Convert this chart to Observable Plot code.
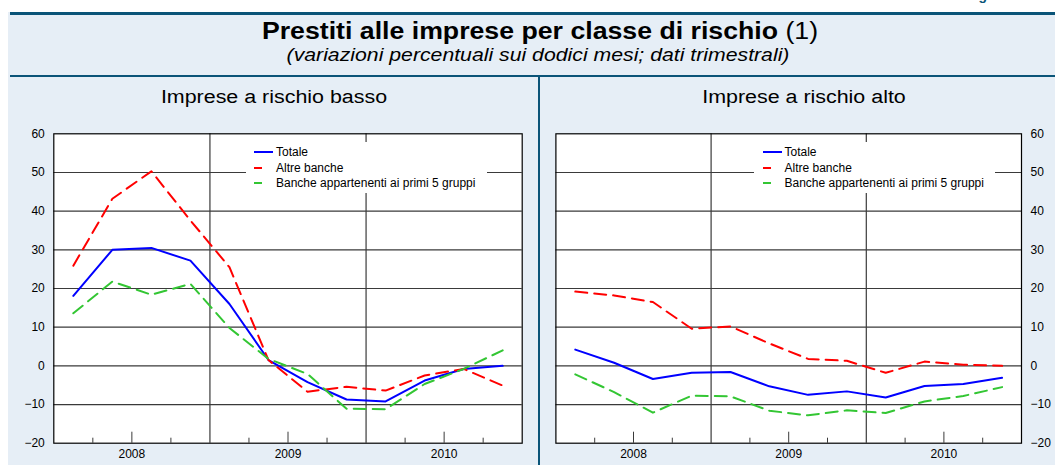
<!DOCTYPE html>
<html><head><meta charset="utf-8">
<script src="https://cdn.jsdelivr.net/npm/d3@7"></script>
<script src="https://cdn.jsdelivr.net/npm/@observablehq/plot@0.6"></script>
<style>
body{margin:0;background:#fff;font-family:"Liberation Sans",Arial,sans-serif;}
#wrap{position:relative;width:1055px;height:465px;overflow:hidden;}
.abs{position:absolute;}
.hdr{position:absolute;text-align:center;white-space:nowrap;color:#000;transform-origin:center;}
.leg{position:absolute;background:#fff;}
.row{position:absolute;height:16px;line-height:16px;font-size:12px;white-space:nowrap;color:#000;}
.row svg{position:absolute;left:0;top:0;}
</style></head><body>
<div id="wrap">
  <div class="abs" style="left:8px;top:12px;width:1047px;height:453px;background:#e6eef6"></div>
  <div class="abs" style="left:966px;top:-12px;font:bold 14px/14px 'Liberation Sans',Arial,sans-serif;color:#0a5478">Figura</div>
  <div class="abs" style="left:10px;top:12px;width:1045px;height:3px;background:#0a5478"></div>
  <div class="abs" style="left:10px;top:75px;width:1045px;height:2px;background:#0a5478"></div>
  <div class="hdr" style="left:40px;width:1000px;top:19.5px;font-size:23px;line-height:23px;transform:scaleX(1.16)"><b>Prestiti alle imprese per classe di rischio</b> (1)</div>
  <div class="hdr" style="left:38px;width:1000px;top:45.5px;font-size:18px;line-height:18px;font-style:italic;transform:scaleX(1.18)">(variazioni percentuali sui dodici mesi; dati trimestrali)</div>
  <div class="hdr" style="left:74px;width:400px;top:88px;font-size:18px;line-height:18px;transform:scaleX(1.19)">Imprese a rischio basso</div>
  <div class="hdr" style="left:604px;width:400px;top:88px;font-size:18px;line-height:18px;transform:scaleX(1.19)">Imprese a rischio alto</div>
  <div id="left" class="abs" style="left:0;top:120px;width:540px;height:345px"></div>
  <div id="right" class="abs" style="left:540px;top:120px;width:515px;height:345px"></div>
  <div id="legL" class="leg" style="left:246px;top:142px;width:241px;height:51px"></div>
  <div id="legR" class="leg" style="left:754px;top:142px;width:241px;height:51px"></div>
  <div class="abs" style="left:538px;top:75px;width:2px;height:390px;background:#0a5478"></div>
</div>
<script>
// ---- data ----
const quarters = ["2008 T1","2008 T2","2008 T3","2008 T4","2009 T1","2009 T2","2009 T3","2009 T4","2010 T1","2010 T2","2010 T3","2010 T4"];
const yearLabels = ["2008","2009","2010"];
const yTicks = [-20,-10,0,10,20,30,40,50,60];
const seriesNames = ["Totale","Altre banche","Banche appartenenti ai primi 5 gruppi"];

const bassoTotale = [18.1, 30.0, 30.5, 27.2, 16.0, 1.5, -4.2, -8.7, -9.2, -3.8, -0.8, 0.0];
const bassoAltre  = [25.9, 43.2, 50.3, 37.6, 25.5, 1.5, -6.7, -5.4, -6.4, -2.5, -0.8, -5.1];
const bassoPrimi5 = [13.6, 21.8, 18.4, 21.2, 9.8, 1.8, -2.1, -11.1, -11.2, -4.7, -0.8, 4.0];

const altoTotale = [4.2, 0.8, -3.4, -1.8, -1.6, -5.3, -7.5, -6.6, -8.2, -5.2, -4.7, -3.1];
const altoAltre  = [19.2, 18.2, 16.5, 9.6, 10.2, 5.8, 1.8, 1.3, -1.8, 1.1, 0.3, 0.0];
const altoPrimi5 = [-2.2, -6.8, -12.1, -7.7, -7.9, -11.6, -12.8, -11.5, -12.2, -9.2, -7.8, -5.5];

// ---- styles ----
const colors = ["#0000ff", "#ff0000", "#33c633"];
const dashes = [null, "12,7", "12,7"];
const gridInk = "#3a3a3a";

const boundaries = d3.range(1, quarters.length);
const yearLines = boundaries.filter(b => b % 4 === 0);
const longTicks = boundaries.filter(b => b % 4 === 2);
const shortTicks = boundaries.filter(b => b % 2 === 1);

function panel(series, {width, marginLeft, marginRight, anchor, tickPadding}) {
  const pxPerUnit = (345 - 13.3 - 22.3) / 80;
  const lines = series.map((vals, si) => Plot.line(
    vals.map((v, i) => ({q: i + 0.5, v})),
    {x: "q", y: "v", stroke: colors[si], strokeWidth: 2, strokeDasharray: dashes[si]}
  ));
  return Plot.plot({
    width, height: 345,
    marginLeft, marginRight, marginTop: 13.3, marginBottom: 22.3,
    style: {background: "transparent", fontFamily: "'Liberation Sans', Arial, sans-serif", fontSize: "12px", color: "#000", overflow: "visible"},
    x: {domain: [0, quarters.length], axis: null},
    y: {domain: [-20, 60], axis: null},
    marks: [
      Plot.frame({fill: "white", stroke: null}),
      Plot.ruleY(yTicks.slice(1, -1), {stroke: gridInk, strokeWidth: 1.2}),
      Plot.ruleX(yearLines, {stroke: gridInk, strokeWidth: 1.2}),
      Plot.ruleX(shortTicks, {x: d => d, y1: -20, y2: -20 + 5 / pxPerUnit, stroke: gridInk}),
      Plot.ruleX(longTicks, {x: d => d, y1: -20, y2: -20 + 11 / pxPerUnit, stroke: gridInk}),
      ...lines,
      Plot.frame({stroke: "#000", strokeWidth: 1.2}),
      Plot.axisY(yTicks, {anchor, label: null, tickSize: 0, tickPadding, fontSize: 12}),
      Plot.axisX(longTicks, {anchor: "bottom", label: null, tickSize: 0, tickPadding: 6, fontSize: 12, tickFormat: d => yearLabels[(d - 2) / 4]})
    ]
  });
}

document.getElementById("left").append(panel([bassoTotale, bassoAltre, bassoPrimi5],
  {width: 540, marginLeft: 53.3, marginRight: 18.3, anchor: "left", tickPadding: 9}));
document.getElementById("right").append(panel([altoTotale, altoAltre, altoPrimi5],
  {width: 515, marginLeft: 15.4, marginRight: 34, anchor: "right", tickPadding: 9}));

function legend(el, sampleX, textX) {
  seriesNames.forEach((name, i) => {
    const row = document.createElement("div");
    row.className = "row";
    row.style.left = sampleX + "px";
    row.style.top = (2 + i * 15.5) + "px";
    const ns = "http://www.w3.org/2000/svg";
    const svg = document.createElementNS(ns, "svg");
    svg.setAttribute("width", 20); svg.setAttribute("height", 16);
    const ln = document.createElementNS(ns, "line");
    ln.setAttribute("x1", 0); ln.setAttribute("x2", 19);
    ln.setAttribute("y1", 8); ln.setAttribute("y2", 8);
    ln.setAttribute("stroke", colors[i]); ln.setAttribute("stroke-width", 2);
    if (dashes[i]) ln.setAttribute("stroke-dasharray", "8,20");
    svg.append(ln);
    row.append(svg);
    const t = document.createElement("span");
    t.textContent = name;
    t.style.position = "absolute";
    t.style.left = (textX - sampleX) + "px";
    row.append(t);
    el.append(row);
  });
}
legend(document.getElementById("legL"), 8, 30);
legend(document.getElementById("legR"), 9, 30.5);
</script>
</body></html>
